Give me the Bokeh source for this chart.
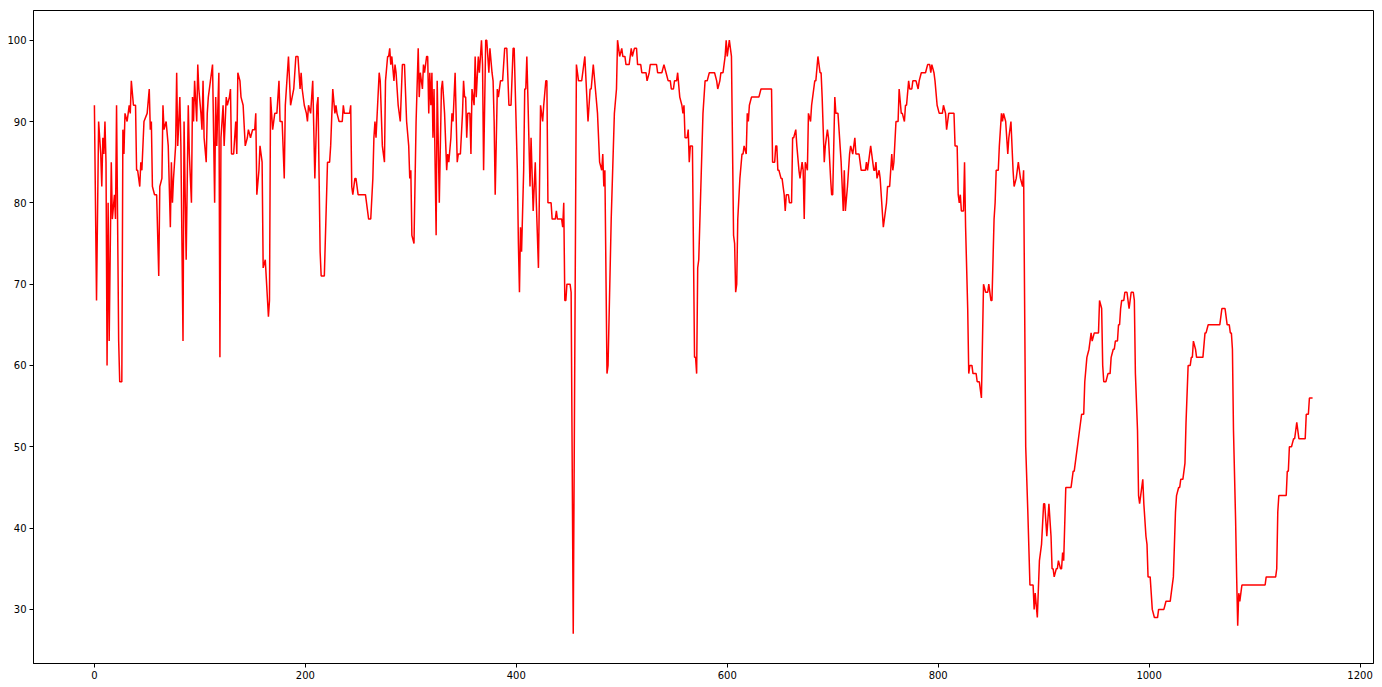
from bokeh.plotting import figure
from bokeh.models import Range1d, FixedTicker
from bokeh.embed import file_html
from bokeh.resources import INLINE

# (index, value) pairs
seg_a = [(0,92),(2,68),(4,90),(5,88),(6,86),(7,82),(8,88),(9,86),(10,90),(11,85),(12,60),(13,80),
         (14,63),(16,85),(17,78),(19,81),(20,78),(21,92),(23,63),(24,58),(26,58),(27,89),(28,86),(29,91),
         (31,90),(32,91),(33,92),(34,91),(35,95),(37,92),(39,92),(40,84),(41,84),(43,82),(44,85),(45,84),
         (47,90),(50,91),(52,94),(53,89),(54,90),(55,82),(57,81),(59,81),(61,71),(62,82),(64,83),(65,92),
         (66,89),(68,90),(70,87),(72,77),(73,85),(74,80),(75,83),(77,87),(78,96),(79,87),(81,93),(82,87),
         (84,63),(85,90),(87,73),(89,92),(90,86),(92,80),(93,93),(94,90),(95,95),(97,90),(98,97),(99,94),
         (101,91),(102,89),(103,95)]
seg_b = [(104,88),(106,85),(107,91),(108,93),(110,95),(112,97),(114,80),(115,93),(116,87),(118,96),
         (119,61),(120,88),(122,92),(123,87),(125,93),(126,92),(128,93),(129,94),(130,86),(132,86),
         (134,90),(135,86),(136,96),(138,95),(139,93),(141,92),(143,87),(145,88),(146,89),(148,88),
         (150,89),(152,89),(153,91),(154,81),(156,84),(157,87),(159,85),(160,72),(162,73),(165,66),
         (166,68),(167,93),(169,89),(171,91),(173,91),(175,95),(176,90),(178,90),(180,83),(181,92),
         (184,98),(186,92),(189,94),(191,98),(193,98),(195,94),(196,96),(197,94),(199,92),(201,91),
         (202,90),(203,92),(205,91),(207,95)]
seg_c = [(209,83),(211,92),(212,93),(214,74),(215,71),(218,71),(221,85),(223,85),(224,87),(226,94),
         (228,91),(229,92),(230,91),(232,90),(235,90),(236,92),(237,91),(242,91),(243,92),(244,82),
         (245,81),(247,83),(248,83),(250,81),(257,81),(260,78),(262,78),(264,83),(265,88),(266,90),
         (267,88),(270,96),(271,95),(273,87),(275,85),(276,95),(278,98),(279,98),(280,99),(281,97),
         (282,98),(284,95),(285,97),(286,96),(288,92),(290,90),(292,97),(294,97),(296,90),(298,87),
         (299,83),(300,84),(301,76),(303,75),(305,90),(307,99),(308,93),(309,96),(311,94),(312,97),
         (313,96),(315,98)]
seg_d = [(316,98),(317,91),(318,96),(319,92),(320,96),(321,88),(322,94),(324,76),(325,95),(327,80),
         (329,94),(330,95),(332,91),(334,84),(335,86),(336,85),(338,88),(339,91),(340,90),(342,96),
         (344,85),(345,86),(347,86),(349,91),(350,95),(351,93),(352,93),(353,88),(354,91),(356,91),
         (357,86),(358,94),(360,92),(361,98),(362,93),(364,98),(365,96),(367,100),(368,97),(369,84),
         (371,100),(372,100),(374,96),(375,99),(377,96),(378,95),(379,90),(380,81),(382,94),(383,93),
         (385,95),(387,95),(389,99),(391,99),(393,92),(395,92),(397,99),(398,99),(401,84),(402,75),
         (403,69),(404,77),(405,74),(407,84),(408,94),(409,94),(410,98),(411,93),(413,82),(414,88),
         (416,79),(418,85),(419,80),(421,72)]
seg_e = [(423,92),(425,90),(426,92),(428,95),(429,95),(430,80),(433,80),(434,78),(437,78),(438,79),
         (439,78),(443,78),(444,77),(445,80),(446,68),(447,68),(448,70),(451,70),(452,69),(454,27),
         (457,97),(459,95),(462,95),(465,98),(468,90),(470,94),(471,94),(473,97),(475,94),(477,91),
         (479,85),(481,84),(482,86),(483,82),(484,84),(486,59),(487,60),(490,78),(493,91),(495,94),
         (496,100),(498,98),(500,99),(501,98),(503,98),(504,97),(507,97),(508,98),(509,99),(510,98),
         (512,99),(514,99),(515,97),(518,97),(519,96),(523,96),(524,95),(526,96),(527,97)]
seg_f = [(528,97),(533,97),(534,96),(538,96),(540,97),(542,96),(544,95),(546,95),(547,94),(549,94),
         (550,95),(552,95),(553,96),(555,93),(557,92),(558,91),(559,92),(560,88),(562,88),(563,89),
         (564,85),(565,87),(567,87),(569,61),(570,61),(571,59),(572,72),(573,73),(575,82),(577,91),
         (579,95),(581,95),(583,96),(588,96),(590,95),(591,94),(593,95),(594,96),(596,96),(598,98),
         (599,100),(600,98),(601,99),(602,100),(604,98),(606,76),(607,75),(608,69),(609,70),(610,78),
         (612,83),(614,86),(615,86),(616,87),(618,86),(619,91),(620,90),(621,92),(623,93),(625,93),
         (630,93),(632,94)]
seg_g = [(642,94),(643,85),(645,85),(646,87),(647,87),(648,84),(649,84),(651,83),(652,83),(653,82),
         (654,81),(655,79),(656,81),(658,81),(659,80),(661,80),(662,88),(663,88),(665,89),(666,87),
         (668,84),(669,83),(671,85),(672,84),(673,78),(674,85),(676,84),(677,91),(679,90),(680,92),
         (681,93),(683,95),(684,95),(686,98),(688,96),(689,96),(690,93),(692,85),(693,87),(695,89),
         (696,88),(698,83),(699,81),(700,81),(702,93),(703,91),(705,91),(706,89),(708,85),(710,79),
         (711,84),(712,79),(714,82),(716,86),(717,87),(719,86),(720,87),(721,88),(722,86),(725,86),
         (727,84),(731,84),(732,85),(733,84),(736,87),(737,86),(739,84)]
seg_h = [(740,84),(741,85),(742,83),(744,84),(745,83),(748,77),(749,78),(751,80),(752,82),(754,82),
         (755,84),(756,86),(757,84),(758,85),(760,90),(762,90),(763,94),(765,91),(766,91),(768,90),
         (769,92),(770,92),(772,95),(773,94),(775,94),(776,95),(779,95),(781,94),(782,95),(784,96),
         (788,96),(790,97),(792,97),(793,96),(794,97),(796,96),(797,95),(799,92),(801,91),(804,91),
         (805,92),(807,91),(808,89),(810,91),(815,91),(816,87),(818,87),(819,81),(820,80),(821,81),
         (822,79),(824,79),(825,85),(826,77),(828,67),(829,59),(830,60),(832,60),(833,59),(836,59),
         (837,58),(839,58),(841,56),(843,70),(845,69),(847,69),(848,70),(850,68),(851,68)]
seg_i = [(853,78),(854,80),(855,84),(857,84),(858,87),(860,91),(861,90),(862,91),(864,90),(866,86),
         (867,88),(869,90),(871,84),(872,82),(874,83),(876,85),(878,83),(880,82),(881,84),(883,50),
         (885,42),(887,33),(890,33),(891,30),(892,32),(894,29),(896,36),(898,38),(900,43),(901,43),
         (903,39),(905,43),(907,39),(908,35),(909,35),(910,34),(912,35),(913,35),(914,36),(916,35),
         (917,35),(918,37),(919,36),(921,45),(926,45),(928,47),(929,47),(931,49),(932,50),(934,52),
         (936,54),(938,54),(939,58),(941,61),(943,62),(944,63),(945,64),(946,63),(948,64),(951,64)]
seg_j = [(952,64),(953,68),(955,67),(956,60),(957,58),(959,58),(961,59),(963,59),(964,61),(966,62),
         (967,62),(968,63),(970,63),(971,65),(972,65),(973,67),(974,68),(976,68),(977,69),(979,69),
         (981,67),(983,69),(985,69),(986,68),(987,59),(989,52),(990,44),(991,43),(992,44),(994,46),
         (995,43),(997,39),(998,38),(999,34),(1001,34),(1002,32),(1003,30),(1005,29),(1008,29),
         (1009,30),(1014,30),(1016,31),(1020,31),(1021,32),(1023,34),(1024,38),(1025,42),(1026,44),
         (1028,45),(1029,45),(1030,46),(1032,46),(1034,48),(1035,53),(1037,60),(1039,60),(1040,61),
         (1041,61),(1042,63),(1044,62),(1045,61),(1051,61),(1053,64),(1054,64),(1056,65)]
seg_k = [(1067,65),(1069,67),(1072,67),(1074,65),(1076,65),(1077,64),(1078,64),(1079,62),(1080,52),
         (1082,41),(1083,34),(1084,28),(1085,32),(1086,31),(1087,32),(1088,33),(1110,33),(1111,34),
         (1120,34),(1121,35),(1122,42),(1123,44),(1130,44),(1131,47),(1132,47),(1133,50),(1135,50),
         (1137,51),(1138,51),(1139,52),(1140,53),(1142,51),(1148,51),(1149,54),(1151,54),(1152,56),
         (1155,56)]

x_ticks = [0, 200, 400, 600, 800, 1000, 1200]
y_ticks = [30, 40, 50, 60, 70, 80, 90, 100]

points = seg_a + seg_b + seg_c + seg_d + seg_e + seg_f + seg_g + seg_h + seg_i + seg_j + seg_k
xs = [pt[0] for pt in points]
ys = [pt[1] for pt in points]

x_pad = (max(xs) - min(xs)) * 0.05
y_pad = (max(ys) - min(ys)) * 0.05

p = figure(width=1382, height=687, output_backend="svg", toolbar_location=None,
           x_range=Range1d(min(xs) - x_pad, max(xs) + x_pad),
           y_range=Range1d(min(ys) - y_pad, max(ys) + y_pad),
           min_border_left=33, min_border_right=9, min_border_top=10, min_border_bottom=24)

p.line(xs, ys, line_color="#ff0000", line_width=1.5)

p.xgrid.visible = False
p.ygrid.visible = False
p.outline_line_color = "black"
p.outline_line_width = 1
p.outline_line_alpha = 1
p.background_fill_color = "white"
p.border_fill_color = "white"

p.xaxis.ticker = FixedTicker(ticks=x_ticks)
p.yaxis.ticker = FixedTicker(ticks=y_ticks)
for ax in (p.xaxis[0], p.yaxis[0]):
    ax.axis_line_color = "black"
    ax.major_tick_line_color = "black"
    ax.minor_tick_line_color = None
    ax.major_tick_out = 4
    ax.major_tick_in = 0
    ax.major_label_standoff = 3
    ax.major_label_text_font = "DejaVu Sans"
    ax.major_label_text_font_size = "10px"
    ax.major_label_text_color = "black"

open("out.html", "w").write(file_html(p, INLINE))
